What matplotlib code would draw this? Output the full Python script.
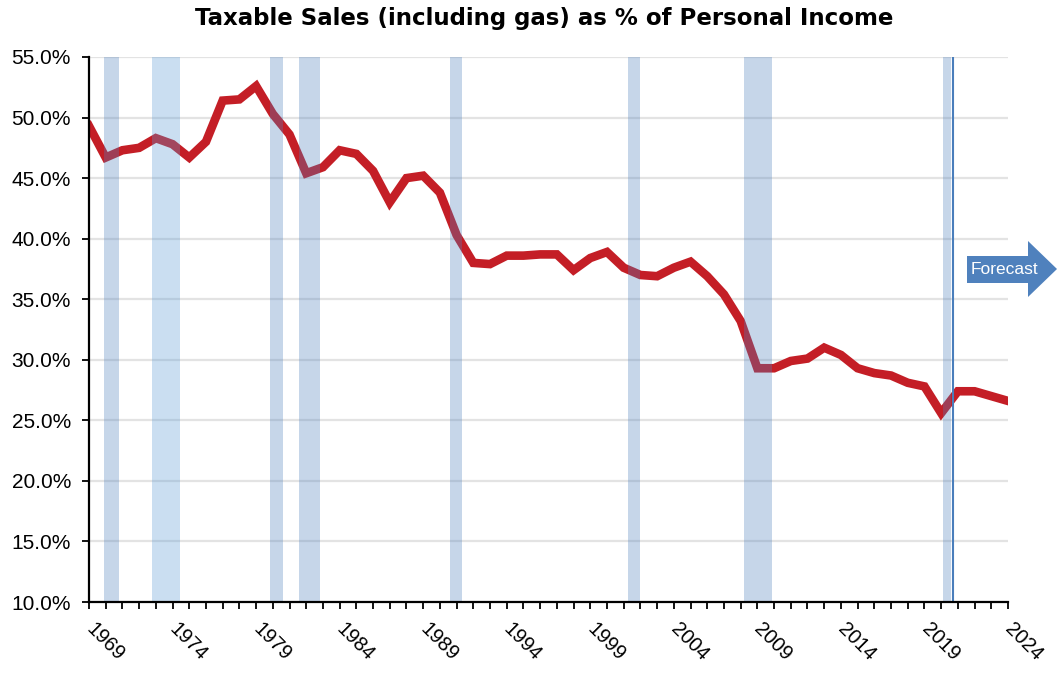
import matplotlib
matplotlib.use('Agg')
import matplotlib.pyplot as plt
from matplotlib.patches import Polygon
from matplotlib.ticker import FuncFormatter, MultipleLocator

years = list(range(1969, 2025))
share = [49.3, 46.7, 47.3, 47.5, 48.3, 47.8, 46.7, 48.0, 51.4, 51.5,
         52.6, 50.3, 48.6, 45.4, 45.9, 47.3, 47.0, 45.6, 43.0, 45.0,
         45.2, 43.8, 40.3, 38.0, 37.9, 38.6, 38.6, 38.7, 38.7, 37.4,
         38.4, 38.9, 37.6, 37.0, 36.9, 37.6, 38.1, 36.9, 35.4, 33.2,
         29.3, 29.3, 29.9, 30.1, 31.0, 30.4, 29.3, 28.9, 28.7, 28.1,
         27.8, 25.6, 27.4, 27.4, 27.0, 26.6]

rec_start = [1969.9, 1972.75, 1979.85, 1981.55, 1990.6, 2001.25, 2008.2, 2020.1]
rec_end = [1970.8, 1974.45, 1980.6, 1982.85, 1991.35, 2001.95, 2009.9, 2020.6]
forecast_start = 2020.7

title = 'Taxable Sales (including gas) as % of Personal Income'

fig = plt.figure(figsize=(10.57, 6.81), dpi=100)
ax = fig.add_axes([89 / 1057, 1 - 602 / 681, 919 / 1057, 545 / 681])

ax.plot(years, share, color='#c41e26', lw=6.2, zorder=2, solid_joinstyle='miter')
for i, (a, b) in enumerate(zip(rec_start, rec_end)):
    # the 1973-75 band is a shade lighter in the original
    c = '#5b9bd5' if i == 1 else '#4f81bd'
    ax.axvspan(a, b, ymin=0, ymax=1, color=c, alpha=0.32, lw=0, zorder=3)
ax.axvline(forecast_start, color='#4a7ebb', lw=1.5, zorder=4)

ax.set_xlim(1969, 2024)
ax.set_ylim(10, 55)
ax.yaxis.set_major_locator(MultipleLocator(5))
ax.yaxis.set_major_formatter(FuncFormatter(lambda v, p: '%.1f%%' % v))
ax.set_xticks(range(1969, 2025, 5))
ax.xaxis.set_minor_locator(MultipleLocator(1))
ax.grid(axis='y', color='#e3e3e3', lw=1.6, zorder=0)
ax.set_axisbelow(True)

for s in ['top', 'right']:
    ax.spines[s].set_visible(False)
for s in ['left', 'bottom']:
    ax.spines[s].set_linewidth(1.6)
    ax.spines[s].set_zorder(5)

ax.tick_params(axis='y', which='major', direction='out', length=5, width=1.3,
               labelsize=15, pad=8)
ax.tick_params(axis='x', which='both', direction='out', length=5, width=1.3,
               labelsize=14.5, pad=12)
for lab in ax.get_yticklabels():
    lab.set_family(['Liberation Sans', 'DejaVu Sans'])
for lab in ax.get_xticklabels():
    lab.set_family(['Liberation Sans', 'DejaVu Sans'])
    lab.set_rotation(-45)
    lab.set_ha('left')
    lab.set_va('center')
    lab.set_rotation_mode('anchor')

fig.text(544 / 1057, 1 - 19 / 681, title, ha='center', va='center',
         fontsize=16.5, fontweight='bold', family=['DejaVu Sans'])

# forecast arrow (pixel layout converted to figure fraction)
W, H = 1057.0, 681.0
pts = [(967, 256), (1028, 256), (1028, 241), (1057, 269), (1028, 297),
       (1028, 283), (967, 283)]
arrow = Polygon([(x / W, 1 - y / H) for x, y in pts], closed=True,
                transform=fig.transFigure, facecolor='#4f81bd', edgecolor='none')
fig.patches.append(arrow)
fig.text(1004 / W, 1 - 269 / H, 'Forecast', ha='center', va='center', color='white',
         fontsize=12.5, family=['Liberation Sans Narrow', 'Liberation Sans', 'DejaVu Sans'])

fig.savefig('out.png', dpi=100)
